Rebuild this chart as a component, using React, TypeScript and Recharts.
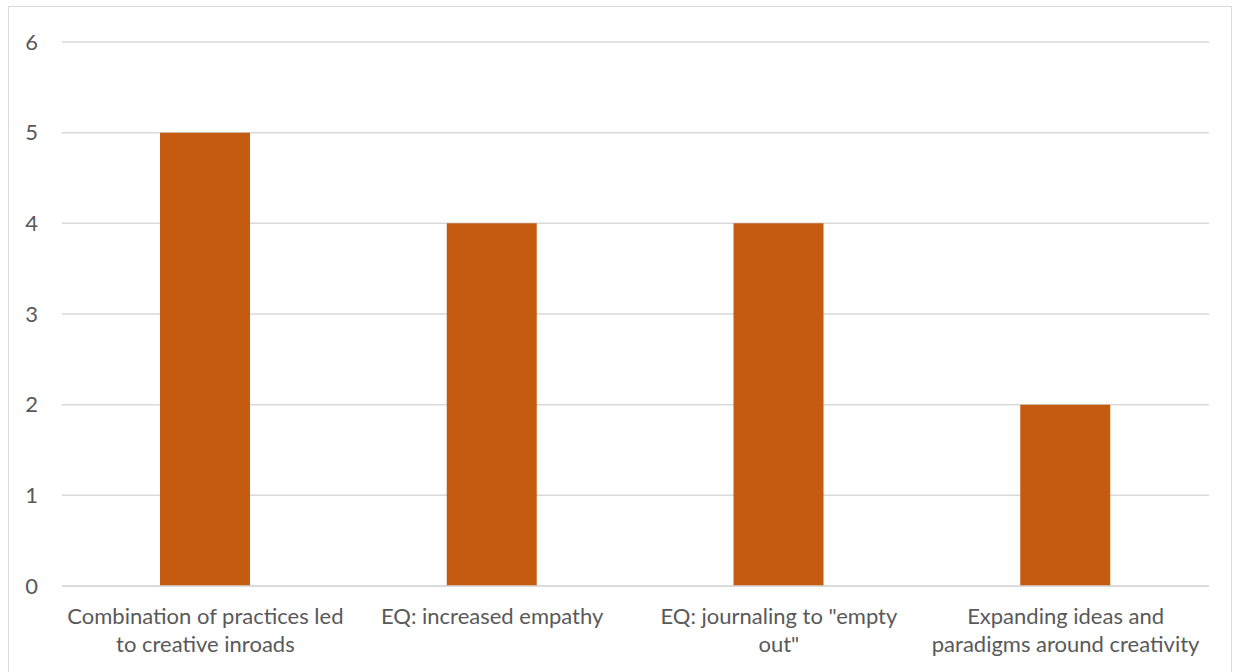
import { Bar, BarChart, CartesianGrid, XAxis, YAxis } from "recharts";

// tick labels keep the original two-line wrapping
const categories = [
  "Combination of practices led\nto creative inroads",
  "EQ: increased empathy",
  'EQ: journaling to "empty\nout"',
  "Expanding ideas and\nparadigms around creativity",
];
const counts = [5, 4, 4, 2];
const yTicks = [0, 1, 2, 3, 4, 5, 6];

const rows = categories.map((label, i) => ({ label, count: counts[i] }));

const FONT = "Lato, 'Open Sans', sans-serif";
const TEXT = "#595959";

function CategoryTick({ x, y, payload }: any) {
  const lines = String(payload.value).split("\n");
  return (
    <text x={x} y={y} textAnchor="middle" fill={TEXT} fontSize={22} fontFamily={FONT}>
      {lines.map((line, i) => (
        <tspan key={i} x={x} dy={i === 0 ? 30 : 28}>
          {line}
        </tspan>
      ))}
    </text>
  );
}

export default function App() {
  return (
    <div style={{ position: "fixed", left: 0, top: 0, width: 1238, height: 672, background: "#fff" }}>
      <div
        style={{
          position: "absolute",
          left: 8,
          top: 6,
          width: 1222,
          height: 680,
          border: "1px solid #d9d9d9",
        }}
      />
      <BarChart
        width={1238}
        height={672}
        data={rows}
        margin={{ top: 42, right: 29, bottom: 0, left: 0 }}
        style={{ position: "absolute", left: 0, top: 0 }}
      >
        <CartesianGrid vertical={false} stroke="#d9d9d9" strokeWidth={1.5} />
        <XAxis
          dataKey="label"
          height={86}
          axisLine={{ stroke: "#d9d9d9", strokeWidth: 1.5 }}
          tickLine={false}
          interval={0}
          tick={<CategoryTick />}
        />
        <YAxis
          width={62}
          domain={[0, 6]}
          ticks={yTicks}
          axisLine={false}
          tickLine={false}
          tickSize={0}
          tickMargin={24}
          tick={{ fill: TEXT, fontSize: 22, fontFamily: FONT }}
        />
        <Bar dataKey="count" fill="#c55a11" barSize={90} isAnimationActive={false} />
      </BarChart>
    </div>
  );
}
